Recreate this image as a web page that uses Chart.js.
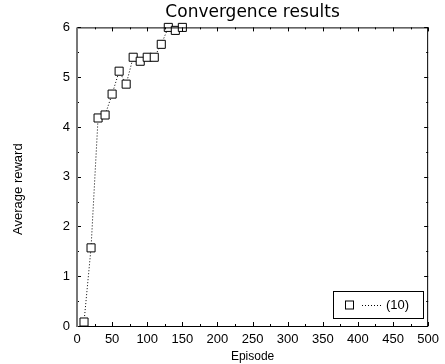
<!DOCTYPE html>
<html>
<head>
<meta charset="utf-8">
<script src="https://cdn.jsdelivr.net/npm/chart.js@4/dist/chart.umd.min.js"></script>
<style>
html,body{margin:0;padding:0;background:#fff;}
#wrap{width:445px;height:364px;}
</style>
</head>
<body>
<div id="wrap"><canvas id="c" width="445" height="364"></canvas></div>
<script>
const episodes = [10,20,30,40,50,60,70,80,90,100,110,120,130,140,150];
const rewards = [0.08,1.57,4.18,4.24,4.66,5.12,4.86,5.40,5.32,5.40,5.40,5.66,6.0,5.94,6.0];
const xTicks = [0,50,100,150,200,250,300,350,400,450,500];
const yTicks = [0,1,2,3,4,5,6];
const seriesLabel = '(10)';
const yTitle = 'Average reward';
const FONT = "'Liberation Sans', Arial, sans-serif";
const TFONT = "'DejaVu Sans', sans-serif";

const framePlugin = {
  id: 'frame',
  afterDatasetsDraw(chart) {
    const ctx = chart.ctx, a = chart.chartArea;
    const xs = chart.scales.x, ys = chart.scales.y;
    ctx.save();
    ctx.strokeStyle = '#000';
    ctx.lineWidth = 1;
    ctx.beginPath();
    for (let v = 0; v <= 500; v += 25) {
      const px = Math.round(xs.getPixelForValue(v)) + 0.5;
      const len = (v % 50 === 0) ? 4 : 2;
      ctx.moveTo(px, a.bottom); ctx.lineTo(px, a.bottom - len);
      ctx.moveTo(px, a.top); ctx.lineTo(px, a.top + len);
    }
    for (let v = 0; v <= 6; v += 0.5) {
      const py = Math.round(ys.getPixelForValue(v)) + 0.5;
      const len = (v % 1 === 0) ? 4 : 2;
      ctx.moveTo(a.left, py); ctx.lineTo(a.left + len, py);
      ctx.moveTo(a.right, py); ctx.lineTo(a.right - len, py);
    }
    ctx.stroke();
    ctx.beginPath();
    ctx.moveTo(a.left, a.top + 0.5); ctx.lineTo(a.right, a.top + 0.5);
    ctx.moveTo(a.right - 0.5, a.top); ctx.lineTo(a.right - 0.5, a.bottom);
    ctx.moveTo(a.left, a.bottom + 0.5); ctx.lineTo(a.right, a.bottom + 0.5);
    ctx.stroke();
    ctx.strokeStyle = '#777';
    ctx.lineWidth = 2;
    ctx.beginPath();
    ctx.moveTo(a.left, a.top); ctx.lineTo(a.left, a.bottom + 1);
    ctx.stroke();
    // y axis title (placed slightly below axis centre, as in the reference)
    ctx.save();
    ctx.translate(18, ys.getPixelForValue(2.75));
    ctx.rotate(-Math.PI / 2);
    ctx.fillStyle = '#000';
    ctx.font = '13px ' + FONT;
    ctx.textAlign = 'center';
    ctx.textBaseline = 'middle';
    ctx.fillText(yTitle, 0, 0);
    ctx.restore();
    // legend box
    const bx = 333, by = 291, bw = 90, bh = 27;
    ctx.fillStyle = '#fff';
    ctx.fillRect(bx, by, bw, bh);
    ctx.strokeStyle = '#000';
    ctx.lineWidth = 1;
    ctx.strokeRect(bx + 0.5, by + 0.5, bw, bh);
    const cy = by + bh / 2 + 0.5;
    ctx.strokeRect(345.5, cy - 4, 8, 8);
    ctx.setLineDash([1, 2]);
    ctx.beginPath();
    ctx.moveTo(362, cy + 0.5); ctx.lineTo(381, cy + 0.5);
    ctx.stroke();
    ctx.setLineDash([]);
    ctx.fillStyle = '#000';
    ctx.font = '13px ' + FONT;
    ctx.textBaseline = 'middle';
    ctx.textAlign = 'left';
    ctx.fillText(seriesLabel, 386, cy);
    ctx.restore();
  }
};

new Chart(document.getElementById('c'), {
  type: 'line',
  data: {
    datasets: [{
      label: seriesLabel,
      data: episodes.map((e, i) => ({x: e, y: rewards[i]})),
      borderColor: '#000',
      borderWidth: 1,
      borderDash: [1, 2],
      backgroundColor: '#fff',
      pointStyle: 'rect',
      pointRadius: 5.7,
      pointBorderWidth: 1,
      pointBorderColor: '#000',
      pointBackgroundColor: '#fff',
      tension: 0,
      clip: false
    }]
  },
  options: {
    responsive: false,
    animation: false,
    devicePixelRatio: 1,
    layout: {padding: {left: 0, right: 12, top: 0, bottom: 0}},
    plugins: {
      legend: {display: false},
      tooltip: {enabled: false},
      title: {
        display: true,
        fullSize: false,
        text: 'Convergence results',
        color: '#000',
        font: {family: TFONT, size: 17, weight: 'normal'},
        padding: {top: 2, bottom: 5}
      }
    },
    scales: {
      x: {
        type: 'linear',
        min: 0, max: 500,
        afterBuildTicks: s => { s.ticks = xTicks.map(v => ({value: v})); },
        afterFit: s => { s.height = 38; },
        grid: {display: false, drawTicks: false},
        border: {display: false},
        ticks: {color: '#000', font: {family: FONT, size: 13}, padding: 6, maxRotation: 0, autoSkip: false},
        title: {display: true, text: 'Episode', color: '#000', font: {family: FONT, size: 12}, padding: {top: -3, bottom: 0}}
      },
      y: {
        min: 0, max: 6,
        afterBuildTicks: s => { s.ticks = yTicks.map(v => ({value: v})); },
        afterFit: s => { s.width = 77; },
        grid: {display: false, drawTicks: false},
        border: {display: false},
        ticks: {color: '#000', font: {family: FONT, size: 13}, padding: 7},
        title: {display: false, text: yTitle}
      }
    }
  },
  plugins: [framePlugin]
});
</script>
</body>
</html>
